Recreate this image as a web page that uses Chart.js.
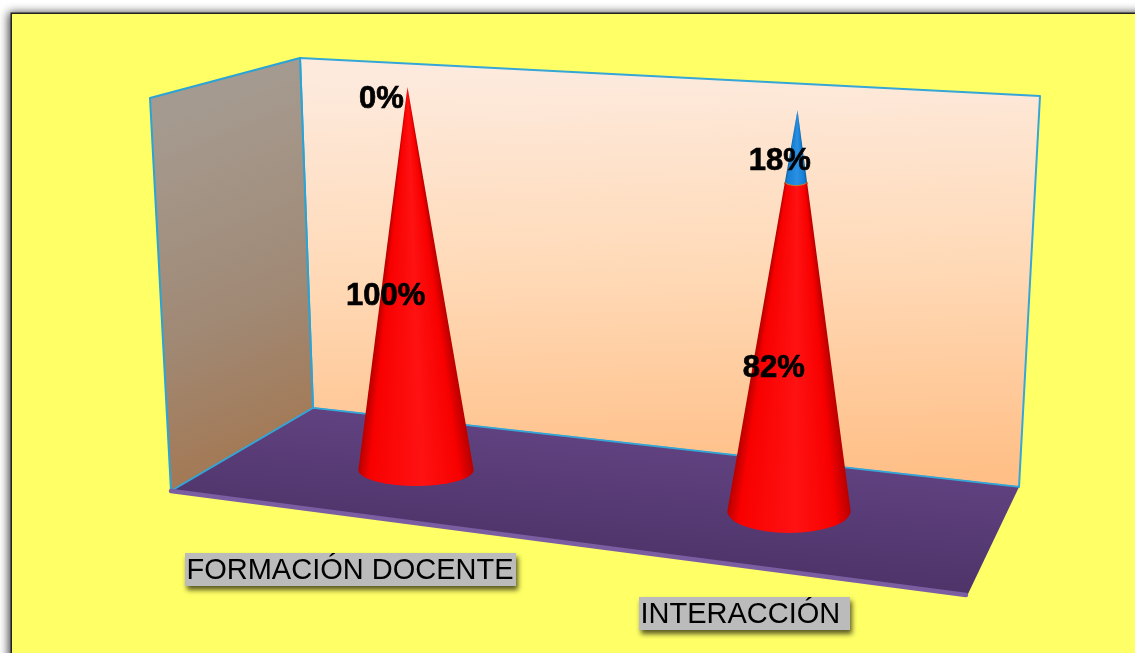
<!DOCTYPE html>
<html>
<head>
<meta charset="utf-8">
<script src="https://cdn.jsdelivr.net/npm/chart.js@4"></script>
<style>html,body{margin:0;padding:0;background:#fff;overflow:hidden}canvas{display:block}</style>
</head>
<body>
<canvas id="c" width="1135" height="653"></canvas>
<script>
const categories = ['FORMACIÓN DOCENTE', 'INTERACCIÓN'];
const lowerSeries = [100, 82];
const upperSeries = [0, 18];

// Scene: the 3-D box the library's scales are projected into
const BACK_WALL = [[300,58],[1040,96],[1019,487],[313,408]];
const LEFT_WALL = [[150,98],[300,58],[313,408],[171,491]];
const FLOOR = [[313,408],[1019,487],[967,596],[171,491]];
// Projection of a plot-area x to the floor line and to the height line
const FLOOR_LINE = {x0:416, y0:470, slope:0.11};
const TOP_LINE = {x0:416, y0:87, slope:0.0617};
const LEAN = {centre:602.5, k:0.0456};
const PERSPECTIVE = {centre:602.5, k:0.00018};
const TILT = {x0:416, t0:0.276, k:0.00021};

const CATEGORY_BOXES = [
  {x:185, y:553, w:331, h:33},
  {x:639, y:597, w:211, h:33}
];
const LABEL_NUDGE = [
  [[-26,16.5],[-18.7,21]],
  [[-26,11],[-17,14]]
];
const SERIES_STYLE = [
  {edge:'#b80000', mid:'#f80000', hi:'#ff1212'},
  {edge:'#0c5f9e', mid:'#1580d6', hi:'#2a90e2'}
];

function poly(ctx, pts){
  ctx.beginPath();
  pts.forEach((p,i)=> i ? ctx.lineTo(p[0],p[1]) : ctx.moveTo(p[0],p[1]));
  ctx.closePath();
}
function frame(x){
  const base = {x:x, y:FLOOR_LINE.y0 + (x-FLOOR_LINE.x0)*FLOOR_LINE.slope};
  const apex = {x:x + (x-LEAN.centre)*LEAN.k, y:TOP_LINE.y0 + (x-TOP_LINE.x0)*TOP_LINE.slope};
  return {base, apex, scale:1 + (x-PERSPECTIVE.centre)*PERSPECTIVE.k, tilt:TILT.t0 + (x-TILT.x0)*TILT.k};
}
function coneGradient(ctx, f, rx, st){
  const right = Math.atan2(f.base.y-f.apex.y, f.base.x+rx-f.apex.x);
  const left = Math.atan2(f.base.y-f.apex.y, f.base.x-rx-f.apex.x);
  const t = a => (a-right)/(Math.PI*2);
  const g = ctx.createConicGradient(right, f.apex.x, f.apex.y);
  const L = t(left);
  g.addColorStop(0, st.edge);
  g.addColorStop(L*0.13, st.mid);
  g.addColorStop(L*0.45, st.hi);
  g.addColorStop(L*0.9, st.mid);
  g.addColorStop(L, st.edge);
  g.addColorStop(1, st.edge);
  return g;
}

const scenePlugin = {
  id:'scene',
  beforeDraw(chart){
    const ctx = chart.ctx;
    ctx.save();
    ctx.fillStyle = '#fff';
    ctx.fillRect(0,0,chart.width,chart.height);
    // page frame
    ctx.shadowColor = 'rgba(0,0,0,0.75)';
    ctx.shadowBlur = 9;
    ctx.shadowOffsetX = -3;
    ctx.shadowOffsetY = -1;
    ctx.fillStyle = '#222';
    ctx.fillRect(10.5,12.5,chart.width+40,chart.height+40);
    ctx.shadowColor = 'transparent';
    ctx.fillStyle = '#FFFF66';
    ctx.fillRect(12,14,chart.width,chart.height);

    // back wall
    let g = ctx.createLinearGradient(640,70,650,480);
    g.addColorStop(0,'#FDEADD');
    g.addColorStop(0.5,'#FFD9B6');
    g.addColorStop(1,'#FFBF87');
    poly(ctx,BACK_WALL); ctx.fillStyle = g; ctx.fill();
    ctx.lineWidth = 2; ctx.strokeStyle = '#35A6D6'; ctx.lineJoin='round';
    ctx.stroke();
    // left wall
    g = ctx.createLinearGradient(170,120,310,460);
    g.addColorStop(0,'#A59A8F');
    g.addColorStop(0.55,'#A08975');
    g.addColorStop(1,'#A4764F');
    poly(ctx,LEFT_WALL); ctx.fillStyle = g; ctx.fill();
    ctx.strokeStyle = '#2AA3D5'; ctx.stroke();
    // floor
    g = ctx.createLinearGradient(640,440,625,590);
    g.addColorStop(0,'#614281');
    g.addColorStop(1,'#493063');
    poly(ctx,FLOOR); ctx.fillStyle = g; ctx.fill();
    ctx.beginPath(); ctx.moveTo(171,491); ctx.lineTo(313,408); ctx.lineTo(1019,487);
    ctx.lineWidth = 1.5; ctx.strokeStyle = '#35A6D6'; ctx.stroke();
    ctx.beginPath(); ctx.moveTo(171,491); ctx.lineTo(966,595);
    ctx.lineWidth = 4.5; ctx.lineCap='round'; ctx.strokeStyle = '#7B5EA2'; ctx.stroke();
    ctx.restore();
  },
  beforeDatasetDraw(chart, args){
    const ctx = chart.ctx;
    const meta = args.meta;
    const st = SERIES_STYLE[args.index];
    const area = chart.chartArea;
    ctx.save();
    meta.data.forEach((el,i)=>{
      const f0 = (area.bottom - el.base)/(area.bottom-area.top);
      const f1 = (area.bottom - el.y)/(area.bottom-area.top);
      if (f1-f0 < 1e-4) return;
      const f = frame(el.x);
      const rx = el.width/2*f.scale;
      const ry = rx*f.tilt;
      const at = t => ({x:f.base.x+(f.apex.x-f.base.x)*t, y:f.base.y+(f.apex.y-f.base.y)*t, r:rx*(1-t), s:ry*(1-t)});
      const a = at(f0), b = at(f1);
      ctx.beginPath();
      ctx.ellipse(a.x,a.y,a.r,a.s,0,0,Math.PI,false);
      if (b.r > 0.01) ctx.ellipse(b.x,b.y,b.r,b.s,0,Math.PI,0,true);
      else ctx.lineTo(b.x,b.y);
      ctx.closePath();
      ctx.fillStyle = coneGradient(ctx,f,rx,st);
      ctx.fill();
      if (f0 > 0) {
        ctx.beginPath();
        ctx.ellipse(a.x,a.y,a.r,a.s,0,0,Math.PI,false);
        ctx.lineWidth = 2; ctx.strokeStyle = '#C8762A'; ctx.stroke();
      }
    });
    ctx.restore();
    return false;
  },
  afterDatasetsDraw(chart){
    const ctx = chart.ctx;
    const area = chart.chartArea;
    const xScale = chart.scales.x;
    ctx.save();
    // value labels
    ctx.font = 'bold 31px "Liberation Sans", Arial, sans-serif';
    ctx.fillStyle = '#000';
    ctx.strokeStyle = '#000';
    ctx.lineWidth = 0.7;
    ctx.textAlign = 'center';
    ctx.textBaseline = 'middle';
    chart.data.datasets.forEach((ds,d)=>{
      chart.getDatasetMeta(d).data.forEach((el,i)=>{
        const f0 = (area.bottom - el.base)/(area.bottom-area.top);
        const f1 = (area.bottom - el.y)/(area.bottom-area.top);
        const m = (f0+f1)/2;
        const f = frame(el.x);
        const px = f.base.x+(f.apex.x-f.base.x)*m;
        const py = f.base.y+(f.apex.y-f.base.y)*m;
        const n = LABEL_NUDGE[d][i];
        ctx.fillText(ds.data[i]+'%', px+n[0], py+n[1]+1);
        ctx.strokeText(ds.data[i]+'%', px+n[0], py+n[1]+1);
      });
    });
    // category labels
    ctx.font = '29px "Liberation Sans", Arial, sans-serif';
    ctx.textAlign = 'left';
    categories.forEach((_,i)=>{
      const b = CATEGORY_BOXES[i];
      ctx.save();
      ctx.shadowColor = 'rgba(0,0,0,0.65)';
      ctx.shadowBlur = 5;
      ctx.shadowOffsetX = 2;
      ctx.shadowOffsetY = 4;
      ctx.fillStyle = '#BBBBBB';
      ctx.fillRect(b.x,b.y,b.w,b.h);
      ctx.restore();
      ctx.fillStyle = '#000';
      ctx.fillText(xScale.getLabelForValue(i), b.x+1.5, b.y+b.h/2+1);
    });
    ctx.restore();
  }
};

new Chart(document.getElementById('c'), {
  type:'bar',
  data:{
    labels:categories,
    datasets:[
      {label:'Serie 1', data:lowerSeries, backgroundColor:'#ff0000', stack:'s'},
      {label:'Serie 2', data:upperSeries, backgroundColor:'#1580d6', stack:'s'}
    ]
  },
  options:{
    responsive:false,
    animation:false,
    layout:{padding:{left:229.5,right:159.5,top:87,bottom:183}},
    plugins:{legend:{display:false},tooltip:{enabled:false},title:{display:false}},
    datasets:{bar:{barPercentage:0.32,categoryPercentage:1}},
    scales:{
      x:{stacked:true,display:false},
      y:{stacked:true,display:false,min:0,max:100}
    }
  },
  plugins:[scenePlugin]
});
</script>
</body>
</html>
